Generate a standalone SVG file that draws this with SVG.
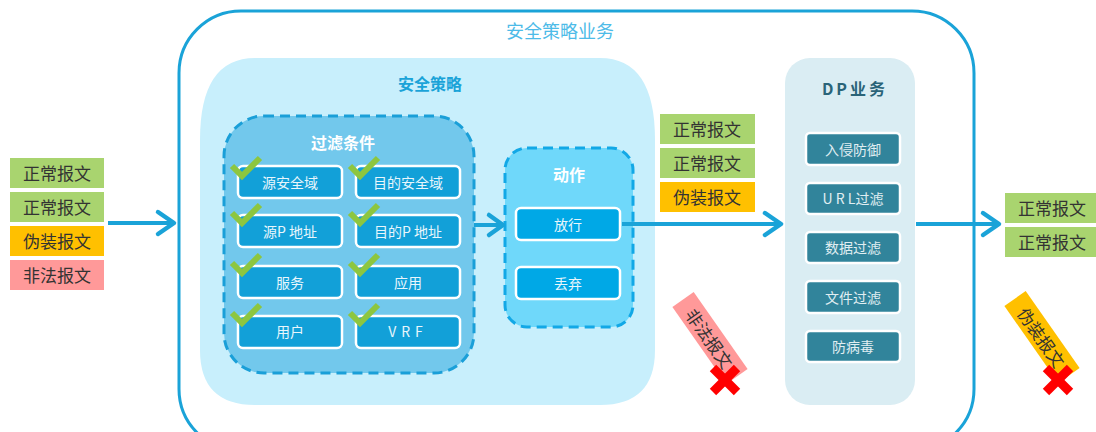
<svg xmlns="http://www.w3.org/2000/svg" width="1096" height="432" viewBox="0 0 1096 432">
<defs>
<style>
text{font-family:"Noto Sans CJK SC","Liberation Sans",sans-serif;text-anchor:middle;dominant-baseline:central}
.pk{font-size:17px;fill:#333}
.it{fill:#12a0d8;stroke:#fff;stroke-width:2.5}
.itt{font-size:14px;fill:#e8f6fc}
.dp{fill:#31849b;stroke:#fff;stroke-width:2.5}
.dpt{font-size:14px;fill:#e0eef2}
.ck{fill:none;stroke:#8dc63f;stroke-width:6;stroke-linecap:butt;stroke-linejoin:miter}
.ar{fill:none;stroke:#1aa3d8;stroke-width:4}
.ah{fill:none;stroke:#1aa3d8;stroke-width:4.5;stroke-linecap:round;stroke-linejoin:round}
.x{fill:#ff0000}
</style>
</defs>
<rect width="1096" height="432" fill="#fff"/>
<g id="outer">
<rect x="179" y="11" width="795" height="440" rx="62" fill="#fff" stroke="#1aa3d8" stroke-width="3"/>
<text x="560" y="30" style="font-size:18px;fill:#4dbbe8">安全策略业务</text>
</g>
<g id="policy">
<path d="M255,58 H600 Q655,58 655,140 V350 Q655,405 600,405 H255 Q200,405 200,350 V140 Q200,58 255,58 Z" fill="#c8effc"/>
<text x="430" y="83" style="font-size:16px;font-weight:bold;fill:#1aa3d8">安全策略</text>
</g>
<g id="filter">
<rect x="224" y="116" width="250" height="257" rx="40" fill="#72c8ec" stroke="#1a9fd8" stroke-width="3" stroke-dasharray="10,6"/>
<text x="343" y="142" style="font-size:16px;font-weight:bold;fill:#fff">过滤条件</text>
</g>
<g id="f1"><rect class="it" x="238" y="166" width="104" height="32" rx="5"/><text class="itt" x="290" y="182">源安全域</text><polyline class="ck" points="232,166 242,176 260,158"/></g>
<g id="f2"><rect class="it" x="356" y="166" width="104" height="32" rx="5"/><text class="itt" x="408" y="182">目的安全域</text><polyline class="ck" points="350,166 360,176 378,158"/></g>
<g id="f3"><rect class="it" x="238" y="215" width="104" height="32" rx="5"/><text class="itt" x="290" y="231">源P 地址</text><polyline class="ck" points="232,213 242,223 260,205"/></g>
<g id="f4"><rect class="it" x="356" y="215" width="104" height="32" rx="5"/><text class="itt" x="408" y="231">目的P 地址</text><polyline class="ck" points="350,213 360,223 378,205"/></g>
<g id="f5"><rect class="it" x="238" y="266" width="104" height="32" rx="5"/><text class="itt" x="290" y="282">服务</text><polyline class="ck" points="232,263 242,273 260,255"/></g>
<g id="f6"><rect class="it" x="356" y="266" width="104" height="32" rx="5"/><text class="itt" x="408" y="282">应用</text><polyline class="ck" points="350,263 360,273 378,255"/></g>
<g id="f7"><rect class="it" x="238" y="316" width="104" height="32" rx="5"/><text class="itt" x="290" y="331">用户</text><polyline class="ck" points="232,313 242,323 260,305"/></g>
<g id="f8"><rect class="it" x="356" y="316" width="104" height="32" rx="5"/><text class="itt" x="408" y="331" style="letter-spacing:5px">VRF</text><polyline class="ck" points="350,313 360,323 378,305"/></g>
<g id="action">
<rect x="505" y="148" width="128" height="179" rx="22" fill="#6fd8fa" stroke="#12a8e6" stroke-width="3" stroke-dasharray="10,6"/>
<text x="569" y="174" style="font-size:16px;font-weight:bold;fill:#fff">动作</text>
</g>
<g id="a1"><rect x="516" y="208" width="104" height="32" rx="5" fill="#00a8e6" stroke="#fff" stroke-width="2.5"/><text class="itt" x="568" y="224">放行</text></g>
<g id="a2"><rect x="516" y="267" width="104" height="32" rx="5" fill="#00a8e6" stroke="#fff" stroke-width="2.5"/><text class="itt" x="568" y="283">丢弃</text></g>
<g id="dp">
<rect x="785" y="58" width="130" height="347" rx="25" fill="#daedf3"/>
<text x="855" y="88" style="font-size:16px;font-weight:bold;fill:#2a6478;letter-spacing:3px">DP业务</text>
</g>
<g id="d1"><rect class="dp" x="806" y="133" width="94" height="32" rx="4"/><text class="dpt" x="853" y="149">入侵防御</text></g>
<g id="d2"><rect class="dp" x="806" y="183" width="94" height="31" rx="4"/><text class="dpt" x="853" y="198">U R L过滤</text></g>
<g id="d3"><rect class="dp" x="806" y="232" width="94" height="31" rx="4"/><text class="dpt" x="853" y="247">数据过滤</text></g>
<g id="d4"><rect class="dp" x="806" y="281" width="94" height="32" rx="4"/><text class="dpt" x="853" y="297">文件过滤</text></g>
<g id="d5"><rect class="dp" x="806" y="331" width="94" height="31" rx="4"/><text class="dpt" x="853" y="346">防病毒</text></g>
<g id="in">
<rect x="10" y="158" width="94" height="30" fill="#a9d46f"/><text class="pk" x="57" y="172">正常报文</text>
<rect x="10" y="192" width="94" height="30" fill="#a9d46f"/><text class="pk" x="57" y="206">正常报文</text>
<rect x="10" y="226" width="94" height="30" fill="#ffc000"/><text class="pk" x="57" y="240">伪装报文</text>
<rect x="10" y="260" width="94" height="30" fill="#ff9999"/><text class="pk" x="57" y="274">非法报文</text>
</g>
<g id="mid">
<rect x="660" y="114" width="95" height="30" fill="#a9d46f"/><text class="pk" x="707" y="128">正常报文</text>
<rect x="660" y="148" width="95" height="30" fill="#a9d46f"/><text class="pk" x="707" y="162">正常报文</text>
<rect x="660" y="182" width="95" height="30" fill="#ffc000"/><text class="pk" x="707" y="196">伪装报文</text>
</g>
<g id="out">
<rect x="1005" y="193" width="91" height="30" fill="#a9d46f"/><text class="pk" x="1052" y="207">正常报文</text>
<rect x="1005" y="227" width="91" height="30" fill="#a9d46f"/><text class="pk" x="1052" y="241">正常报文</text>
</g>
<g id="drop1">
<g transform="translate(710,338) rotate(55)"><rect x="-47" y="-13" width="94" height="26" fill="#ff9999"/><text class="pk" x="0" y="0">非法报文</text></g>
<g transform="translate(725,380) rotate(45)"><rect class="x" x="-17" y="-4.5" width="34" height="9"/><rect class="x" x="-4.5" y="-17" width="9" height="34"/></g>
</g>
<g id="drop2">
<g transform="translate(1042,337) rotate(55)"><rect x="-47" y="-13" width="94" height="26" fill="#ffc000"/><text class="pk" x="0" y="0">伪装报文</text></g>
<g transform="translate(1058,380) rotate(45)"><rect class="x" x="-17" y="-4.5" width="34" height="9"/><rect class="x" x="-4.5" y="-17" width="9" height="34"/></g>
</g>
<g id="connectors">
<line class="ar" x1="108" y1="223" x2="174" y2="223"/><polyline class="ah" points="158,212 174,223 158,234"/>
<line class="ar" x1="474" y1="225" x2="503" y2="225"/><polyline class="ah" points="489,215 503,225 489,235"/>
<line class="ar" x1="622" y1="224" x2="781" y2="224"/><polyline class="ah" points="765,213 781,224 765,235"/>
<line class="ar" x1="916" y1="224" x2="999" y2="224"/><polyline class="ah" points="983,213 999,224 983,235"/>
</g>
</svg>
